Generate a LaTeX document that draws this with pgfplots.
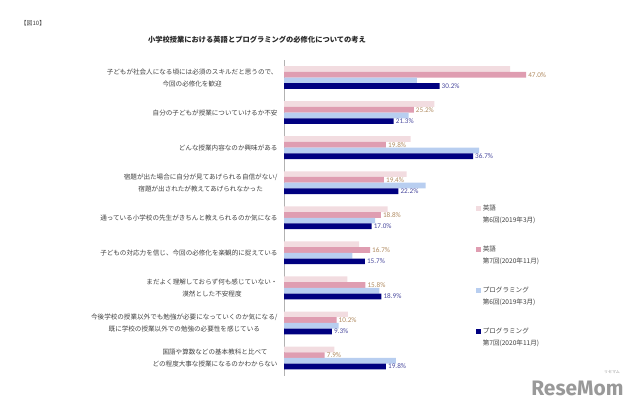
\documentclass[border=0pt]{standalone}
\usepackage{pgfplots}
\pgfplotsset{compat=1.18}
\usepackage{fontspec}
\setmainfont{Noto Sans CJK JP}
\newfontfamily\numfont{Carlito}
\newfontfamily\wmfont{Fira Sans}
\definecolor{c1}{HTML}{F2DCE0}
\definecolor{c2}{HTML}{DF9DB1}
\definecolor{c3}{HTML}{B8CEF0}
\definecolor{c4}{HTML}{000080}
\definecolor{l2}{HTML}{B08A60}
\definecolor{l4}{HTML}{4A4A9E}
\definecolor{txt}{HTML}{404040}
\begin{document}
\begin{tikzpicture}
\useasboundingbox (0,0) rectangle (640bp,405bp);
\node[font=\fontsize{6}{7}\selectfont, text=txt] at (33bp,382bp) {【図10】};
\node[font=\bfseries\fontsize{7.3}{9}\selectfont, text=black!85] at (257bp,365bp) {小学校授業における英語とプログラミングの必修化についての考え};
\begin{axis}[
  at={(284bp,29.5bp)}, anchor=south west,
  scale only axis, width=276bp, height=315.5bp,
  xmin=0, xmax=53.59, ymin=-0.5, ymax=8.5, y dir=reverse,
  xbar, bar width=5.7bp,
  axis x line=none, axis y line*=left,
  y axis line style={-, draw=gray!60, line width=0.6pt},
  xtick=\empty, ytick={0,...,8}, major tick length=0pt,
  yticklabels={
    {子どもが社会人になる頃には必須のスキルだと思うので、\\今回の必修化を歓迎},
    {自分の子どもが授業についていけるか不安},
    {どんな授業内容なのか興味がある},
    {宿題が出た場合に自分が見てあげられる自信がない/\\宿題が出されたが教えてあげられなかった},
    {通っている小学校の先生がきちんと教えられるのか気になる},
    {子どもの対応力を信じ、今回の必修化を楽観的に捉えている},
    {まだよく理解しておらず何も感じていない・\\漠然とした不安程度},
    {今後学校の授業以外でも勉強が必要になっていくのか気になる/\\既に学校の授業以外での勉強の必要性を感じている},
    {国語や算数などの基本教科と比べて\\どの程度大事な授業になるのかわからない}},
  yticklabel style={align=center, font=\fontsize{6.6}{12}\selectfont, text=txt, xshift=-3bp},
  point meta=x,
  /pgf/number format/assume math mode=true,
  legend image code/.code={\path[#1,draw=none] (0bp,-2.3bp) rectangle (4.6bp,2.3bp);},
  legend cell align=left,
  legend style={draw=none, fill=none, at={(0.6957,0.547)}, anchor=north west,
    font=\fontsize{6.6}{8}\selectfont, text=txt, row sep=30bp, inner sep=0pt,
    nodes={inner xsep=2bp}},
]
\addplot[fill=c1, draw=none, bar shift=8.55bp] coordinates {(43.9,0) (29.2,1) (24.6,2) (23.8,3) (20.1,4) (14.6,5) (12.3,6) (12.4,7) (9.8,8)};
\addlegendentry{\smash{\rlap{\raisebox{-11.5bp}{第6回(2019年3月)}}}英語}
\addplot[fill=c2, draw=none, bar shift=2.85bp, nodes near coords={\pgfmathprintnumber[fixed,fixed zerofill,precision=1]{\pgfplotspointmeta}\%},
  every node near coord/.append style={font=\numfont\fontsize{7.2}{8}\selectfont, text=l2, inner xsep=2bp}] coordinates {(47.0,0) (25.2,1) (19.8,2) (19.4,3) (18.8,4) (16.7,5) (15.8,6) (10.2,7) (7.9,8)};
\addlegendentry{\smash{\rlap{\raisebox{-11.5bp}{第7回(2020年11月)}}}英語}
\addplot[fill=c3, draw=none, bar shift=-2.85bp] coordinates {(25.8,0) (24.2,1) (37.9,2) (27.5,3) (17.7,4) (13.3,5) (18.5,6) (10.6,7) (21.7,8)};
\addlegendentry{\smash{\rlap{\raisebox{-11.5bp}{第6回(2019年3月)}}}プログラミング}
\addplot[fill=c4, draw=none, bar shift=-8.55bp, nodes near coords={\pgfmathprintnumber[fixed,fixed zerofill,precision=1]{\pgfplotspointmeta}\%},
  every node near coord/.append style={font=\numfont\fontsize{7.2}{8}\selectfont, text=l4, inner xsep=2bp}] coordinates {(30.2,0) (21.3,1) (36.7,2) (22.2,3) (17.0,4) (15.7,5) (18.9,6) (9.3,7) (19.8,8)};
\addlegendentry{\smash{\rlap{\raisebox{-11.5bp}{第7回(2020年11月)}}}プログラミング}
\end{axis}
\node[font=\wmfont\bfseries\fontsize{21}{22}\selectfont, text=gray!80, anchor=south east] at (627bp,6bp) {ReseMom};
\node[font=\fontsize{4}{5}\selectfont, text=gray!80] at (612bp,33bp) {リセマム};
\end{tikzpicture}
\end{document}
